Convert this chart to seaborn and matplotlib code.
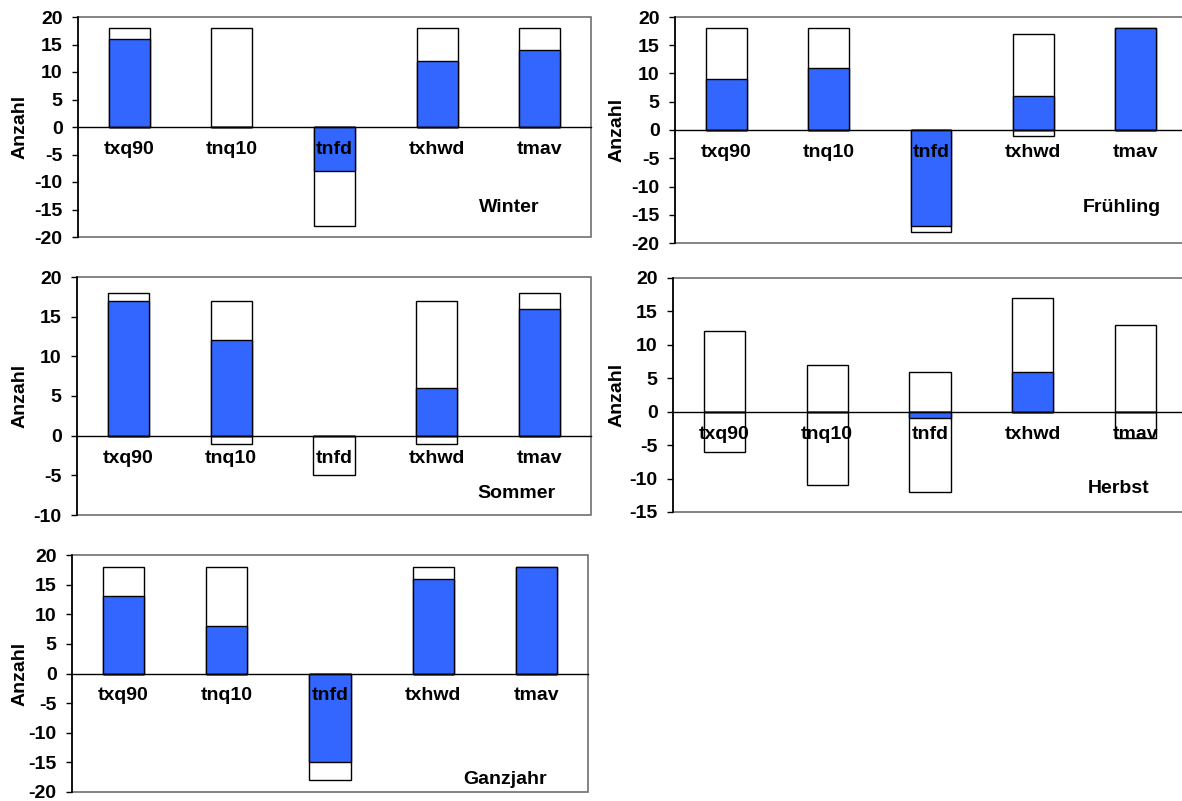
import numpy as np
import pandas as pd
import matplotlib
matplotlib.use('Agg')
import matplotlib.pyplot as plt
import matplotlib.patches as mpatches
import seaborn as sns

sns.set_style('white')
plt.rcParams['font.family'] = ['Liberation Sans', 'DejaVu Sans']
plt.rcParams['font.weight'] = 'bold'
plt.rcParams['axes.labelweight'] = 'bold'
plt.rcParams['axes.unicode_minus'] = False
for k in ['text.color', 'xtick.color', 'ytick.color', 'axes.labelcolor']:
    plt.rcParams[k] = 'black'

# Daten: Anzahl Stationen je Index (gesamt / signifikant), positiv und negativ
indices = ['txq90', 'tnq10', 'tnfd', 'txhwd', 'tmav']
seasons = ['Winter', 'Frühling', 'Sommer', 'Herbst', 'Ganzjahr']

pos_total = {'Winter':   [18, 18, 0, 18, 18],
             'Frühling': [18, 18, 0, 17, 18],
             'Sommer':   [18, 17, 0, 17, 18],
             'Herbst':   [12, 7, 6, 17, 13],
             'Ganzjahr': [18, 18, 0, 18, 18]}
pos_sig = {'Winter':   [16, 0, 0, 12, 14],
           'Frühling': [9, 11, 0, 6, 18],
           'Sommer':   [17, 12, 0, 6, 16],
           'Herbst':   [0, 0, 0, 6, 0],
           'Ganzjahr': [13, 8, 0, 16, 18]}
neg_total = {'Winter':   [0, 0, -18, 0, 0],
             'Frühling': [0, 0, -18, -1, 0],
             'Sommer':   [0, -1, -5, -1, 0],
             'Herbst':   [-6, -11, -12, 0, -4],
             'Ganzjahr': [0, 0, -18, 0, 0]}
neg_sig = {'Winter':   [0, 0, -8, 0, 0],
           'Frühling': [0, 0, -17, 0, 0],
           'Sommer':   [0, 0, 0, 0, 0],
           'Herbst':   [0, 0, -1, 0, 0],
           'Ganzjahr': [0, 0, -15, 0, 0]}
ymin = {'Winter': -20, 'Frühling': -20, 'Sommer': -10, 'Herbst': -15, 'Ganzjahr': -20}
ymax = 20

W, H = 1182, 801
fig = plt.figure(figsize=(W / 100, H / 100), dpi=100)

# Panel-Lage in Pixeln: links, rechts, oben, unten
boxes = {'Winter':   (78, 591, 17, 237),
         'Frühling': (675, 1187, 17, 243),
         'Sommer':   (77, 591, 277, 515),
         'Herbst':   (673, 1187, 278, 512),
         'Ganzjahr': (72, 588, 555, 792)}
# Position der Jahreszeit-Beschriftung (rechtes Ende, Mitte y) in Pixeln
name_pos = {'Winter': (539, 207), 'Frühling': (1161, 208), 'Sommer': (555, 494),
            'Herbst': (1149, 488), 'Ganzjahr': (547, 780)}
ylab_x = {'Winter': 20, 'Frühling': 617, 'Sommer': 20, 'Herbst': 617, 'Ganzjahr': 20}

blue = '#3366FF'
fs = 14

for s in seasons:
    l, r, t, b = boxes[s]
    ax = fig.add_axes([l / W, 1 - b / H, (r - l) / W, (b - t) / H])
    df = pd.DataFrame({'index': indices, 'pos_total': pos_total[s], 'pos_sig': pos_sig[s],
                       'neg_total': neg_total[s], 'neg_sig': neg_sig[s]})
    sns.barplot(data=df, x='index', y='pos_total', order=indices, color='white',
                edgecolor='black', linewidth=1, width=0.4, saturation=1, ax=ax)
    sns.barplot(data=df, x='index', y='neg_total', order=indices, color='white',
                edgecolor='black', linewidth=1, width=0.4, saturation=1, ax=ax)
    sns.barplot(data=df, x='index', y='pos_sig', order=indices, color=blue,
                edgecolor='black', linewidth=1, width=0.4, saturation=1, ax=ax)
    sns.barplot(data=df, x='index', y='neg_sig', order=indices, color=blue,
                edgecolor='black', linewidth=1, width=0.4, saturation=1, ax=ax)

    ax.set_axisbelow(False)
    ax.set_xlim(-0.5, 4.5)
    ax.set_ylim(ymin[s], ymax)
    ax.set_yticks(np.arange(ymin[s], ymax + 1, 5))
    ax.set_xlabel('')
    ax.set_ylabel('')

    for sp in ['top', 'right']:
        ax.spines[sp].set_visible(False)
    ax.spines['left'].set_color('black')
    ax.spines['left'].set_linewidth(1.2)
    ax.spines['bottom'].set_position(('data', 0))
    ax.spines['bottom'].set_color('black')
    ax.spines['bottom'].set_linewidth(1)
    ax.spines['bottom'].set_zorder(5)
    frame = mpatches.Rectangle((0, 0), 1, 1, transform=ax.transAxes, fill=False,
                               edgecolor='#707070', linewidth=1.2, clip_on=False, zorder=0.5)
    ax.add_patch(frame)

    ax.set_xticks(np.arange(len(indices)))
    ax.set_xticklabels(indices)
    ax.set_xticks(np.arange(0.5, len(indices) - 1, 1), minor=True)
    ax.tick_params(axis='x', which='major', length=0, pad=10, labelsize=fs)
    ax.tick_params(axis='x', which='minor', length=4, width=1, direction='out', color='black')
    ax.tick_params(axis='y', length=4, width=1, direction='out', color='black',
                   left=True, pad=7, labelsize=fs)
    for lab in ax.get_xticklabels() + ax.get_yticklabels():
        lab.set_fontweight('bold')
    ax.set_facecolor('white')

    fig.text(ylab_x[s] / W, 1 - ((t + b) / 2) / H, 'Anzahl', rotation=90, ha='center',
             va='center', fontsize=fs, fontweight='bold')
    nx, ny = name_pos[s]
    fig.text(nx / W, 1 - ny / H, s, ha='right', va='center', fontsize=fs, fontweight='bold')

fig.savefig('out.png', dpi=100)
